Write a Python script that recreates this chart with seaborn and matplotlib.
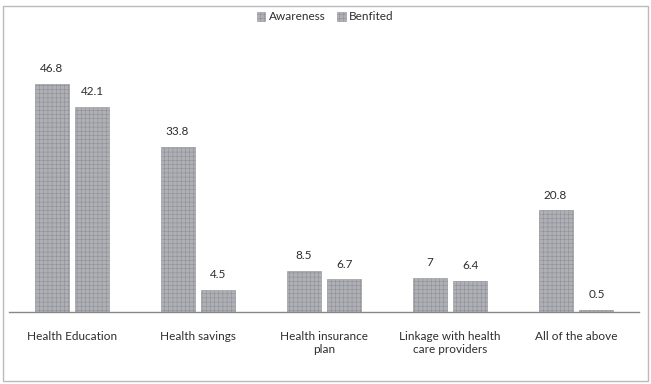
import matplotlib
matplotlib.use("Agg")
import matplotlib.pyplot as plt
import seaborn as sns
import pandas as pd
from matplotlib.patches import Rectangle

categories = ["Health Education", "Health savings", "Health insurance\nplan",
              "Linkage with health\ncare providers", "All of the above"]
awareness = [46.8, 33.8, 8.5, 7, 20.8]
benefited = [42.1, 4.5, 6.7, 6.4, 0.5]
series = ["Awareness", "Benfited"]

df = pd.DataFrame({
    "category": categories * 2,
    "value": awareness + benefited,
    "series": [series[0]] * len(categories) + [series[1]] * len(categories),
})

sns.set_theme(style="white")
plt.rcParams["font.family"] = ["Lato", "DejaVu Sans"]
plt.rcParams["hatch.linewidth"] = 0.4
plt.rcParams["hatch.color"] = "#80838a"

bar_face = "#aeb0b5"

fig = plt.figure(figsize=(6.51, 3.84), dpi=100)
ax = fig.add_axes([9 / 651, 1 - 312 / 384, 630 / 651, 244 / 384])

sns.barplot(data=df, x="category", y="value", hue="series",
            palette=[bar_face, bar_face], width=0.65, gap=0.17,
            ax=ax, legend=False, saturation=1)

for patch in ax.patches:
    patch.set_hatch("++++")
    patch.set_edgecolor("#8e9096")
    patch.set_linewidth(0.4)

for cont in ax.containers:
    ax.bar_label(cont, labels=[f"{v:g}" for v in cont.datavalues],
                 padding=7, fontsize=8.5, color="#2e2e2e")

ax.set_ylim(0, 50)
ax.set_xlim(-0.5, len(categories) - 0.5)
ax.set_xlabel("")
ax.set_ylabel("")
ax.set_yticks([])
ax.tick_params(axis="x", length=0, labelsize=8.5, colors="#2e2e2e", pad=14)
for s in ["top", "right", "left"]:
    ax.spines[s].set_visible(False)
ax.spines["bottom"].set_color("#888888")
ax.spines["bottom"].set_linewidth(1.0)

# legend
handles = [Rectangle((0, 0), 1, 1, facecolor=bar_face, hatch="++++",
                     edgecolor="#8e9096", linewidth=0.4) for _ in series]
fig.legend(handles, series, loc="center", bbox_to_anchor=(0.5, 1 - 17 / 384),
           ncol=2, frameon=False, fontsize=8.5, handlelength=0.7,
           handleheight=0.7, handletextpad=0.3, columnspacing=1.0,
           labelcolor="#2e2e2e")

# outer frame
fig.patches.append(Rectangle((3 / 651, 3 / 384), 645 / 651, 375 / 384,
                             transform=fig.transFigure, fill=False,
                             edgecolor="#bbbbbb", linewidth=1.0))

fig.savefig("out.png", dpi=100)
